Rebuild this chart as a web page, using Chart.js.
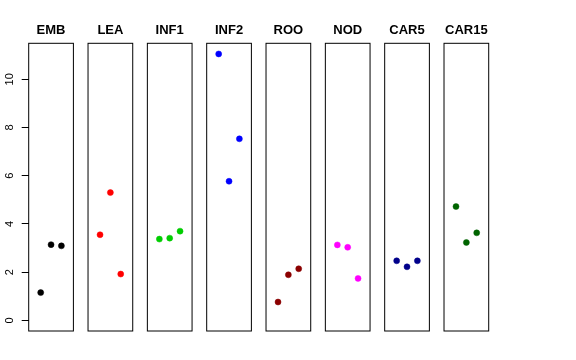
<!DOCTYPE html>
<html>
<head>
<meta charset="utf-8">
<script src="https://cdn.jsdelivr.net/npm/chart.js@4"></script>
<style>
	html, body { margin: 0; padding: 0; background: #ffffff; }
	#wrap { position: relative; width: 576px; height: 360px; }
	#wrap canvas { position: absolute; left: 0; top: 0; }
</style>
</head>
<body>
<div id="wrap"></div>
<script>
// ===========================================
// Data
// ===========================================

var groups = ["EMB", "LEA", "INF1", "INF2", "ROO", "NOD", "CAR5", "CAR15"];

var replicates = [1, 2, 3];

var emb  = [1.15, 3.14, 3.09];
var lea  = [3.55, 5.30, 1.92];
var inf1 = [3.37, 3.41, 3.70];
var inf2 = [11.05, 5.77, 7.53];
var roo  = [0.76, 1.89, 2.14];
var nod  = [3.13, 3.03, 1.74];
var car5 = [2.47, 2.22, 2.47];
var car15 = [4.72, 3.23, 3.63];

var yTicks = [0, 2, 4, 6, 8, 10];

// ===========================================
// Constants
// ===========================================

var groupValues = [emb, lea, inf1, inf2, roo, nod, car5, car15];

var groupColors = [
	"#000000",
	"#FF0000",
	"#00CD00",
	"#0000FF",
	"#8B0000",
	"#FF00FF",
	"#00008B",
	"#006400"
];

var W = 576, H = 360;
var panel_left = 28.7;
var panel_step = 59.33;
var panel_width = 44.7;
var panel_bottom = 331;

// limits like R's ylim = c(0, max) / xlim = c(0, 4), each widened by 4%
var y_min = -0.442, y_max = 11.492;
var x_min = -0.16, x_max = 4.16;

var font_family = "'Liberation Sans', Arial, Helvetica, sans-serif";

// box round the plotting area
var boxPlugin = {
	id: 'panelBox',
	afterDraw: function(chart) {
		var a = chart.chartArea;
		var ctx = chart.ctx;
		ctx.save();
		ctx.strokeStyle = '#000000';
		ctx.lineWidth = 1;
		ctx.strokeRect(a.left, a.top, a.right - a.left, a.bottom - a.top);
		ctx.restore();
	}
};

// ===========================================
// Functions
// ===========================================
function createPanel(i) {
	var canvas = document.createElement('canvas');
	canvas.width = W;
	canvas.height = H;
	document.getElementById('wrap').appendChild(canvas);

	var left = panel_left + i * panel_step;
	var withAxis = (i === 0);

	var points = replicates.map(function(x, k) {
		return { x: x, y: groupValues[i][k] };
	});

	new Chart(canvas.getContext('2d'), {
		type: 'scatter',
		data: {
			datasets: [{
				label: groups[i],
				data: points,
				backgroundColor: groupColors[i],
				borderColor: groupColors[i],
				borderWidth: 0.5,
				pointRadius: 3,
				pointHoverRadius: 3
			}]
		},
		options: {
			responsive: false,
			animation: false,
			events: [],
			layout: {
				padding: {
					left: withAxis ? 0 : left,
					right: W - (left + panel_width),
					top: 0,
					bottom: H - panel_bottom
				}
			},
			plugins: {
				legend: { display: false },
				tooltip: { enabled: false },
				title: {
					display: true,
					text: groups[i],
					fullSize: false,
					color: '#000000',
					font: { family: font_family, size: 13, weight: 'bold' },
					padding: { top: 22.4, bottom: 5.3 }
				}
			},
			scales: {
				x: {
					type: 'linear',
					display: false,
					min: x_min,
					max: x_max
				},
				y: {
					type: 'linear',
					display: withAxis,
					min: y_min,
					max: y_max,
					afterBuildTicks: function(scale) {
						scale.ticks = yTicks.map(function(v) { return { value: v }; });
					},
					afterFit: function(scale) {
						if (withAxis) scale.width = panel_left;
					},
					border: { display: false },
					grid: {
						display: true,
						drawOnChartArea: false,
						drawTicks: true,
						tickLength: 7,
						color: '#000000',
						lineWidth: 1
					},
					ticks: {
						color: '#000000',
						font: { family: font_family, size: 11 },
						minRotation: 90,
						maxRotation: 90,
						crossAlign: 'center',
						padding: 6
					}
				}
			}
		},
		plugins: [boxPlugin]
	});
}

for (var i = 0; i < groups.length; i++) {
	createPanel(i);
}
</script>
</body>
</html>
